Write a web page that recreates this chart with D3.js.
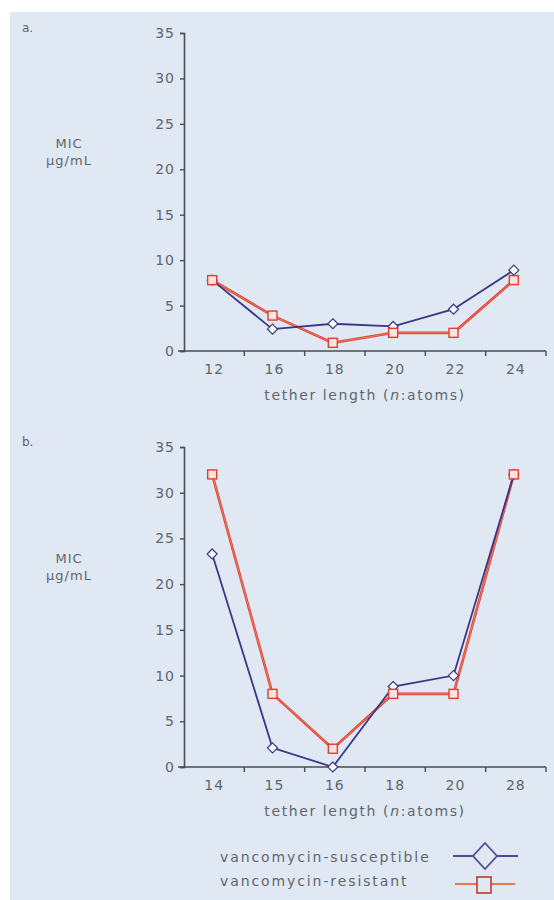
<!DOCTYPE html>
<html>
<head>
<meta charset="utf-8">
<script src="https://cdn.jsdelivr.net/npm/d3@7"></script>
<style>
  body { margin: 0; background: #fff; }
  text { font-family: "DejaVu Sans", sans-serif; fill: #62666d; }
</style>
</head>
<body>
<svg id="chart" width="554" height="900"></svg>
<script>
// panel a
let catsA = ["12", "16", "18", "20", "22", "24"];
let suscA = [7.8, 2.4, 3.0, 2.7, 4.6, 8.9];
let resA = [7.8, 3.9, 0.9, 2.0, 2.0, 7.8];
// panel b
let catsB = ["14", "15", "16", "18", "20", "28"];
let suscB = [23.3, 2.1, 0, 8.8, 10, 32];
let resB = [32, 8, 2, 8, 8, 32];
let yTicks = [0, 5, 10, 15, 20, 25, 30, 35];

const blue = "#3a3788", red = "#df3f2c";

let svg = d3.select("svg#chart");
svg.append("rect").attr("x", 10).attr("y", 12).attr("width", 544).attr("height", 888)
  .attr("fill", "#dfe8f3");

function panel(letter, cats, susc, res, top, bottom) {
  let left = 184, right = 546;
  let x = d3.scaleBand().domain(cats).range([left, right]);
  let y = d3.scaleLinear().domain([0, 35]).range([bottom, top]);

  svg.append("text").attr("x", 22).attr("y", top - 1).style("font-size", "12px").text(letter);
  let lab = svg.append("text").attr("text-anchor", "middle").style("font-size", "13px")
    .style("letter-spacing", "1px");
  let ly = y(20) - 21;
  lab.append("tspan").attr("x", 69).attr("y", ly).text("MIC");
  lab.append("tspan").attr("x", 69).attr("y", ly + 17).text("µg/mL");

  // y axis
  let ya = svg.append("g").attr("transform", "translate(" + left + ",0)")
    .call(d3.axisLeft(y).tickValues(yTicks).tickSize(4).tickPadding(5));
  // x axis, ticks between bands
  let xa = svg.append("g").attr("transform", "translate(0," + bottom + ")")
    .call(d3.axisBottom(x).tickSize(0).tickPadding(13));
  let bounds = cats.map((c) => x(c) + x.bandwidth());
  xa.selectAll(".sep").data(bounds).enter().append("line")
    .attr("x1", (d) => d).attr("x2", (d) => d).attr("y1", 0).attr("y2", 5);
  [ya, xa].forEach((a) => {
    a.select(".domain").attr("stroke", "#4a4d55").attr("stroke-width", 1.6);
    a.selectAll("line").attr("stroke", "#4a4d55").attr("stroke-width", 1.4);
    a.selectAll("text").style("font-size", "14px").style("font-family", "DejaVu Sans, sans-serif")
      .style("letter-spacing", "1px").attr("fill", "#62666d");
  });
  xa.select(".domain").attr("d", "M" + (left - 6) + ",0H" + right);

  let t = svg.append("text").attr("x", 365).attr("y", bottom + 49).attr("text-anchor", "middle")
    .style("font-size", "14px").style("letter-spacing", "1.6px");
  t.append("tspan").text("tether length (");
  t.append("tspan").style("font-style", "italic").text("n");
  t.append("tspan").text(":atoms)");

  let cx = (i) => x(cats[i]) + x.bandwidth() / 2 - 2;
  let line = d3.line().x((d, i) => cx(i)).y((d) => y(d));

  svg.append("path").datum(res).attr("d", line).attr("fill", "none")
    .attr("stroke", red).attr("stroke-width", 2.6);
  svg.append("path").datum(res).attr("d", line).attr("fill", "none")
    .attr("stroke", "#f28a7c").attr("stroke-width", 0.8);
  svg.append("path").datum(susc).attr("d", line).attr("fill", "none")
    .attr("stroke", blue).attr("stroke-width", 1.8);

  svg.selectAll(null).data(susc).enter().append("path")
    .attr("d", "M0,-5L5,0L0,5L-5,0Z")
    .attr("transform", (d, i) => "translate(" + cx(i) + "," + y(d) + ")")
    .attr("fill", "#fff").attr("stroke", blue).attr("stroke-width", 1.2);
  svg.selectAll(null).data(res).enter().append("rect")
    .attr("x", (d, i) => cx(i) - 4.5).attr("y", (d) => y(d) - 4.5)
    .attr("width", 9).attr("height", 9)
    .attr("fill", "#fbe3e0").attr("stroke", red).attr("stroke-width", 1.4);
}

panel("a.", catsA, suscA, resA, 33, 351);
panel("b.", catsB, suscB, resB, 447, 767);

// legend
let leg = svg.append("g");
leg.append("text").attr("x", 220).attr("y", 862).style("font-size", "14px")
  .style("letter-spacing", "1.9px").text("vancomycin-susceptible");
leg.append("text").attr("x", 220).attr("y", 886).style("font-size", "14px")
  .style("letter-spacing", "1.9px").text("vancomycin-resistant");
leg.append("line").attr("x1", 453).attr("x2", 518).attr("y1", 856).attr("y2", 856)
  .attr("stroke", "#4e4a98").attr("stroke-width", 1.8);
leg.append("path").attr("d", "M485,843L497,856L485,869L473,856Z")
  .attr("fill", "#dfe8f3").attr("stroke", "#4e4a98").attr("stroke-width", 1.8);
leg.append("line").attr("x1", 455).attr("x2", 515).attr("y1", 884).attr("y2", 884)
  .attr("stroke", "#e8774e").attr("stroke-width", 1.8);
leg.append("rect").attr("x", 477).attr("y", 877).attr("width", 14).attr("height", 16)
  .attr("fill", "#dfe8f3").attr("stroke", "#c0392b").attr("stroke-width", 1.6);
</script>
</body>
</html>
